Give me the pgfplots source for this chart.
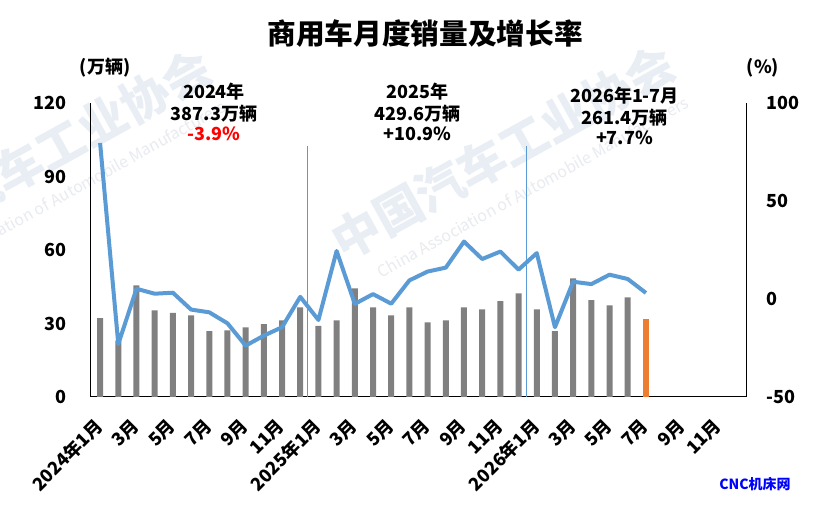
\documentclass[border=0pt]{standalone}
\usepackage{fontspec}
\setmainfont{Noto Sans CJK SC}
\usepackage{pgfplots}
\pgfplotsset{compat=1.18}
\definecolor{barg}{RGB}{128,128,128}
\definecolor{baro}{RGB}{237,125,49}
\definecolor{lineb}{RGB}{91,155,213}
\definecolor{wm}{RGB}{233,238,245}
\definecolor{wme}{RGB}{232,235,240}
\begin{document}
\begin{tikzpicture}
\useasboundingbox (0,0) rectangle (618.75pt,384.75pt);
\fill[white] (0,0) rectangle (618.75pt,384.75pt);
% watermark
\begin{scope}[x=0.75pt,y=-0.75pt,yshift=384.75pt]
\node[rotate=29,text=wm,font=\fontsize{36}{40}\selectfont\bfseries] at (40,156) {中国汽车工业协会};
\node[rotate=29,text=wm,font=\fontsize{36}{40}\selectfont\bfseries] at (503,152) {中国汽车工业协会};
\node[rotate=29,text=wme,font=\fontsize{12}{14}\selectfont] at (70,191) {China Association of Automobile Manufacturers};
\node[rotate=29,text=wme,font=\fontsize{12}{14}\selectfont] at (533,187) {China Association of Automobile Manufacturers};
\end{scope}

\begin{axis}[
  at={(68.25pt,87pt)}, anchor=south west,
  scale only axis, width=491.25pt, height=220.5pt,
  xmin=-0.5, xmax=35.5, ymin=0, ymax=120,
  axis x line*=bottom, axis y line*=left,
  axis line style={black, line width=0.75pt, -},
  ytick={0,30,60,90,120},
  xtick={0,2,...,34},
  xticklabels={2024年1月,3月,5月,7月,9月,11月,2025年1月,3月,5月,7月,9月,11月,2026年1月,3月,5月,7月,9月,11月},
  major tick length=0pt,
  tick label style={font=\fontsize{13.5}{16}\selectfont\bfseries},
  /pgf/number format/assume math mode=true,
  yticklabel style={anchor=east, inner sep=0pt, xshift=-18pt},
  xticklabel style={xshift=-5pt, yshift=-14.75pt, rotate=45, anchor=north east, inner sep=0pt},
  clip=false,
]
\addplot[ybar, bar width=4.5pt, fill=barg, draw=none] coordinates {
(0,32.2) (1,23.0) (2,45.6) (3,35.4) (4,34.3) (5,33.3) (6,26.9) (7,27.2) (8,28.4) (9,29.7) (10,31.3) (11,36.6)
(12,29.0) (13,31.3) (14,44.3) (15,36.6) (16,33.3) (17,36.6) (18,30.5) (19,31.3) (20,36.6) (21,35.8) (22,39.1) (23,42.3)
(24,35.8) (25,26.9) (26,48.4) (27,39.5) (28,37.4) (29,40.7)
};
\addplot[ybar, bar width=4.5pt, fill=baro, draw=none] coordinates {(30,31.7)};
\addplot[lineb, line width=0.7pt, mark=none] coordinates {(11.4,0) (11.4,102.4)};
\addplot[lineb, line width=0.7pt, mark=none] coordinates {(23.45,0) (23.45,102.4)};
\end{axis}

\begin{axis}[
  at={(68.25pt,87pt)}, anchor=south west,
  scale only axis, width=491.25pt, height=220.5pt,
  xmin=-0.5, xmax=35.5, ymin=-50, ymax=100,
  axis y line*=right, axis x line=none,
  axis line style={black, line width=0.75pt, -},
  ytick={-50,0,50,100},
  major tick length=0pt,
  tick label style={font=\fontsize{13.5}{16}\selectfont\bfseries},
  /pgf/number format/assume math mode=true,
  yticklabel style={anchor=west, inner sep=0pt, xshift=15pt},
  clip=false,
]
\addplot[lineb, line width=3pt, mark=none, line join=round] coordinates {
(0,79.6) (1,-23.0) (2,5.2) (3,2.7) (4,3.2) (5,-5.4) (6,-6.8) (7,-12.4) (8,-23.8) (9,-18.7) (10,-14.4) (11,1.1)
(12,-10.7) (13,24.5) (14,-2.5) (15,2.5) (16,-2.4) (17,9.5) (18,14.0) (19,16.0) (20,29.3) (21,20.4) (22,24.2) (23,15.0)
(24,23.4) (25,-14.4) (26,8.8) (27,7.6) (28,12.4) (29,10.2) (30,3.1)
};
\end{axis}

% texts
\begin{scope}[x=0.75pt,y=-0.75pt,yshift=384.75pt]
\node[font=\fontsize{21.5}{24}\selectfont\bfseries] at (425,34) {商用车月度销量及增长率};
\node[font=\fontsize{13.5}{16}\selectfont\bfseries] at (105,68) {(万辆)};
\node[font=\fontsize{13.5}{16}\selectfont\bfseries] at (763,68) {(\%)};
\begin{scope}[every node/.style={anchor=base, font=\fontsize{13.5}{16}\selectfont\bfseries}]
\node at (214,99) {2024年};
\node at (214,120.5) {387.3万辆};
\node[text=red] at (214,141) {-3.9\%};
\node at (417.5,99) {2025年};
\node at (417.5,120.5) {429.6万辆};
\node at (417.5,141) {+10.9\%};
\node at (624.5,103) {2026年1-7月};
\node at (624.5,124.5) {261.4万辆};
\node at (624.5,145) {+7.7\%};
\end{scope}
\node[text=blue, font=\fontsize{10.5}{12}\selectfont\bfseries] at (755,484) {CNC机床网};
\end{scope}
\end{tikzpicture}
\end{document}
